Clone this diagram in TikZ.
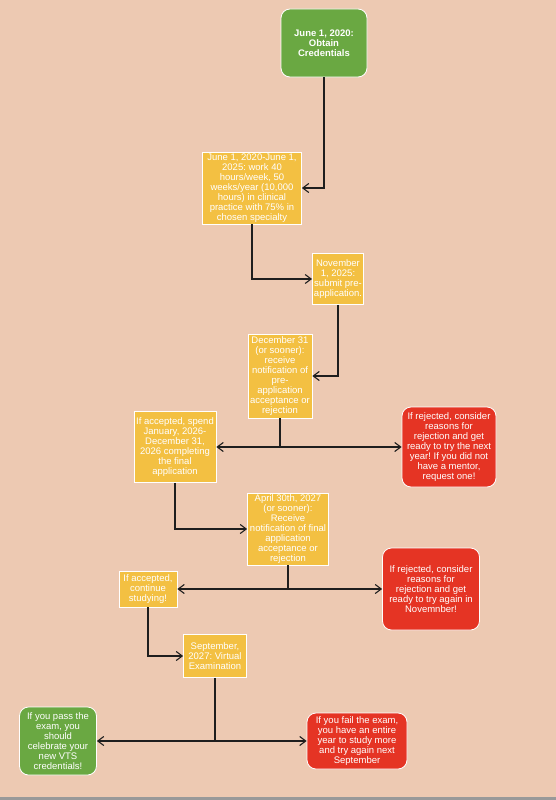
\documentclass[tikz,border=0pt]{standalone}
\usepackage{fontspec}
\setmainfont{Liberation Sans}
\usetikzlibrary{arrows.meta}
\frenchspacing

\definecolor{peach}{RGB}{237,201,178}
\definecolor{stepyellow}{RGB}{243,192,66}
\definecolor{stepgreen}{RGB}{106,168,66}
\definecolor{stepred}{RGB}{229,52,36}
\definecolor{linedark}{RGB}{30,30,30}

\begin{document}
\begin{tikzpicture}[x=1pt, y=-1pt, >={Straight Barb[length=6pt,width=9pt]},
  box/.style={draw=white, line width=0.8pt, text=white, align=center, inner sep=1.5pt,
    font=\fontsize{9.5}{10}\selectfont},
  yel/.style={box, fill=stepyellow},
  grn/.style={box, fill=stepgreen, rounded corners=9pt},
  rd/.style={box, fill=stepred, rounded corners=9pt},
  link/.style={line width=1.1pt, draw=linedark}]

% Background and bottom strip
\fill[peach] (0,0) rectangle (556,800);
\fill[gray!80] (0,797) rectangle (556,800);

% Define the nodes with coordinates
\node[grn, minimum width=86pt, minimum height=68pt, font=\fontsize{9.5}{10}\selectfont\bfseries] (OC) at (324,43) {June 1, 2020:\\Obtain\\Credentials};
\node[yel, minimum width=99pt, minimum height=72pt] (WK) at (252,188) {June 1, 2020-June 1,\\2025: work 40\\hours/week, 50\\weeks/year (10,000\\hours) in clinical\\practice with 75\% in\\chosen specialty};
\node[yel, minimum width=51pt, minimum height=51pt] (PA) at (338,279) {November\\1, 2025:\\submit pre-\\application.};
\node[yel, minimum width=64pt, minimum height=84pt] (PN) at (280,376) {December 31\\(or sooner):\\receive\\notification of\\pre-\\application\\acceptance or\\rejection};
\node[yel, minimum width=82pt, minimum height=71pt] (FA) at (175,447) {If accepted, spend\\January, 2026-\\December 31,\\2026 completing\\the final\\application};
\node[rd, minimum width=94pt, minimum height=80pt] (RJ1) at (449,447) {If rejected, consider\\reasons for\\rejection and get\\ready to try the next\\year! If you did not\\have a mentor,\\request one!};
\node[yel, minimum width=81pt, minimum height=72pt] (FN) at (288,529) {April 30th, 2027\\(or sooner):\\Receive\\notification of final\\application\\acceptance or\\rejection};
\node[rd, minimum width=97pt, minimum height=82pt] (RJ2) at (431,589) {If rejected, consider\\reasons for\\rejection and get\\ready to try again in\\Novemnber!};
\node[yel, minimum width=58pt, minimum height=36pt] (CS) at (148,589) {If accepted,\\continue\\studying!};
\node[yel, minimum width=63pt, minimum height=43pt] (VE) at (215,656) {September,\\2027: Virtual\\Examination};
\node[grn, minimum width=77pt, minimum height=68pt] (PS) at (58,741) {If you pass the\\exam, you\\should\\celebrate your\\new VTS\\credentials!};
\node[rd, minimum width=100pt, minimum height=56pt] (FE) at (357,741) {If you fail the exam,\\you have an entire\\year to study more\\and try again next\\September};

% Branch points
\coordinate (J1) at (280,447);
\coordinate (J2) at (288,589);
\coordinate (J3) at (215,741);

% Draw the edges
\draw[link, ->] (OC) |- (WK);
\draw[link, ->] (WK) |- (PA);
\draw[link, ->] (PA) |- (PN);
\draw[link] (PN) -- (J1);
\draw[link, ->] (J1) -- (FA);
\draw[link, ->] (J1) -- (RJ1);
\draw[link, ->] (FA) |- (FN);
\draw[link] (FN) -- (J2);
\draw[link, ->] (J2) -- (CS);
\draw[link, ->] (J2) -- (RJ2);
\draw[link, ->] (CS) |- (VE);
\draw[link] (VE) -- (J3);
\draw[link, ->] (J3) -- (PS);
\draw[link, ->] (J3) -- (FE);

\end{tikzpicture}
\end{document}
